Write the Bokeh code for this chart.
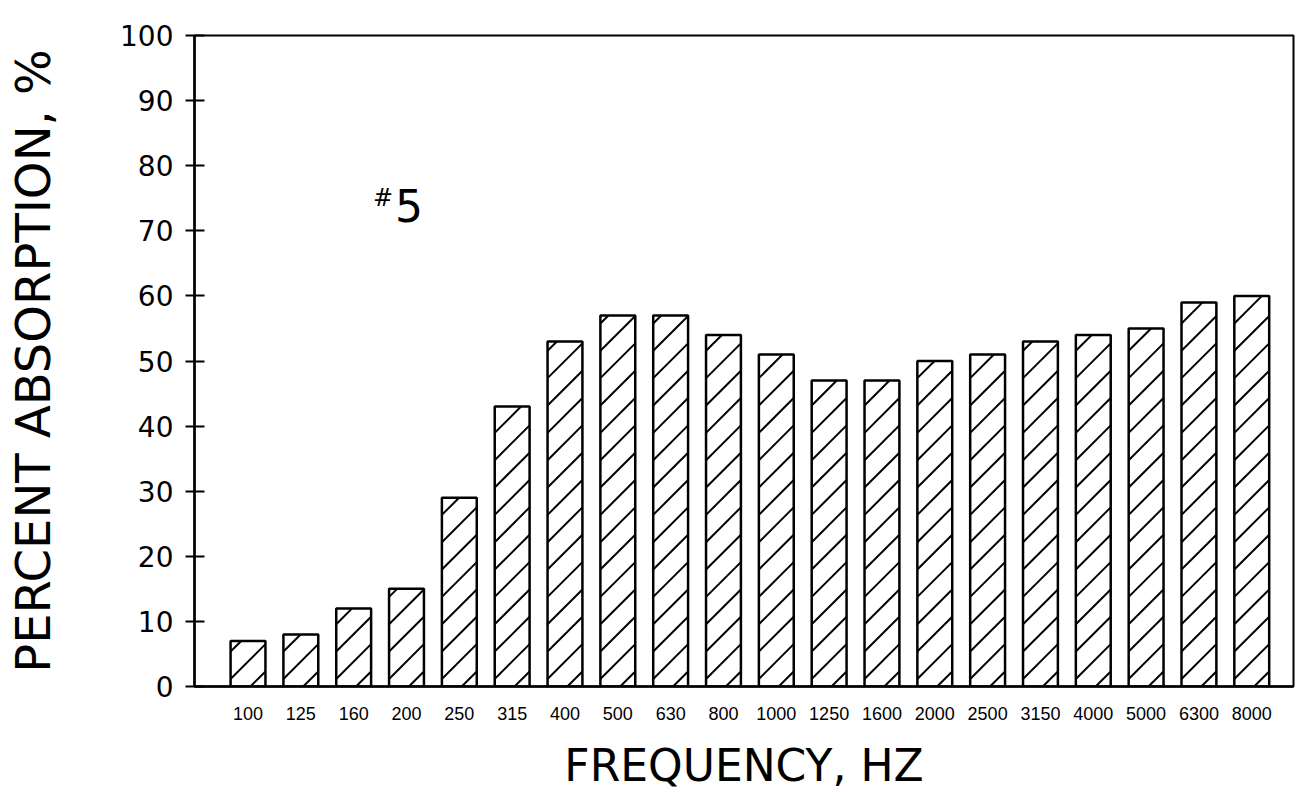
import numpy as np
from bokeh.plotting import figure
from bokeh.models import Range1d, FixedTicker, Label, ColumnDataSource
from bokeh.embed import file_html
from bokeh.resources import INLINE

frequencies = ["100", "125", "160", "200", "250", "315", "400", "500", "630", "800",
               "1000", "1250", "1600", "2000", "2500", "3150", "4000", "5000", "6300", "8000"]
absorption = [7, 8, 12, 15, 29, 43, 53, 57, 57, 54,
              51, 47, 47, 50, 51, 53, 54, 55, 59, 60]
y_ticks = [0, 10, 20, 30, 40, 50, 60, 70, 80, 90, 100]

BAR_WIDTH = 0.66
HATCH_SLOPE = 8.1   # data-y per data-x, i.e. about 45 degrees on screen
HATCH_STEP = 4.2    # vertical spacing of the hatch lines, in data-y

idx = list(range(len(frequencies)))
src = ColumnDataSource(dict(x=idx, top=absorption, label=frequencies))

# hatch lines derived from each bar's extent
hx0, hy0, hx1, hy1 = [], [], [], []
for xi, top in zip(idx, absorption):
    xl, xr = xi - BAR_WIDTH / 2, xi + BAR_WIDTH / 2
    rise = HATCH_SLOPE * (xr - xl)
    for b in np.arange(-rise + 0.55 * HATCH_STEP, top, HATCH_STEP):
        xa0 = max(xl, xl + (0 - b) / HATCH_SLOPE)
        xa1 = min(xr, xl + (top - b) / HATCH_SLOPE)
        if xa1 - xa0 > 0.02:
            hx0.append(xa0); hy0.append(b + HATCH_SLOPE * (xa0 - xl))
            hx1.append(xa1); hy1.append(b + HATCH_SLOPE * (xa1 - xl))
hsrc = ColumnDataSource(dict(x0=hx0, y0=hy0, x1=hx1, y1=hy1))

p = figure(width=1296, height=793, output_backend="svg", toolbar_location=None,
           x_range=Range1d(-1.013, 19.79), y_range=Range1d(0, 100),
           min_border_left=194, min_border_right=3, min_border_top=35, min_border_bottom=106)
p.background_fill_color = "white"
p.border_fill_color = "white"
p.outline_line_color = "black"
p.outline_line_width = 2
p.xgrid.visible = False
p.ygrid.visible = False

p.vbar(x="x", top="top", width=BAR_WIDTH, source=src,
       fill_color="white", line_color=None)
p.segment(x0="x0", y0="y0", x1="x1", y1="y1", source=hsrc,
          line_color="black", line_width=2)
p.vbar(x="x", top="top", width=BAR_WIDTH, source=src,
       fill_color=None, line_color="black", line_width=2.5)

# x axis
xa = p.xaxis[0]
xa.ticker = FixedTicker(ticks=idx)
xa.major_label_overrides = {i: f for i, f in zip(idx, frequencies)}
xa.major_tick_line_color = None
xa.minor_tick_line_color = None
xa.axis_line_width = 2.5
xa.axis_line_color = "black"
xa.major_label_text_font = "Liberation Sans"
xa.major_label_text_font_size = "18px"
xa.major_label_text_color = "black"
xa.major_label_standoff = 14
xa.axis_label = "FREQUENCY, HZ"
xa.axis_label_text_font = "DejaVu Sans"
xa.axis_label_text_font_style = "normal"
xa.axis_label_text_font_size = "44px"
xa.axis_label_text_color = "black"
xa.axis_label_standoff = 17

# y axis
ya = p.yaxis[0]
ya.ticker = FixedTicker(ticks=y_ticks)
ya.minor_tick_line_color = None
ya.axis_line_width = 2.5
ya.axis_line_color = "black"
ya.major_tick_line_width = 2
ya.major_tick_line_color = "black"
ya.major_tick_in = 10
ya.major_tick_out = 9
ya.major_label_text_font = "DejaVu Sans"
ya.major_label_text_font_size = "28px"
ya.major_label_text_color = "black"
ya.major_label_standoff = 12
ya.axis_label = "PERCENT ABSORPTION, %"
ya.axis_label_text_font = "DejaVu Sans"
ya.axis_label_text_font_style = "normal"
ya.axis_label_text_font_size = "48px"
ya.axis_label_text_color = "black"
ya.axis_label_standoff = 56

# panel marker "#5"
p.add_layout(Label(x=2.556, y=75.0, text="#", text_align="center", text_baseline="alphabetic",
                   text_font="DejaVu Sans", text_font_size="24px", text_color="black"))
p.add_layout(Label(x=3.048, y=73.9, text="5", text_align="center", text_baseline="alphabetic",
                   text_font="DejaVu Sans", text_font_size="44px", text_color="black"))

open("out.html", "w").write(file_html(p, INLINE))
